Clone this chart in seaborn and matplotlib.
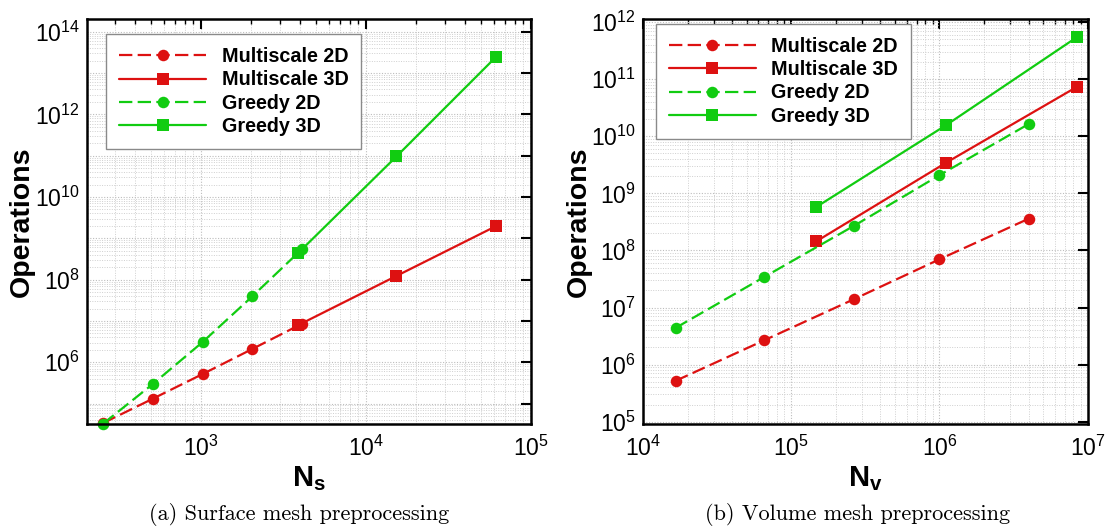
import numpy as np
import pandas as pd
import matplotlib
matplotlib.use("Agg")
import matplotlib.pyplot as plt
from matplotlib.ticker import LogLocator, FuncFormatter, NullFormatter
import seaborn as sns

# ---- data: surface mesh preprocessing ----
ns_2d = [256, 512, 1024, 2048, 4096]
ns_3d = [3880, 15300, 61000]
surf_multiscale_2d = [3.4e4, 1.32e5, 5.2e5, 2.1e6, 8.6e6]
surf_greedy_2d = [3.3e4, 3.0e5, 3.1e6, 3.95e7, 5.5e8]
surf_multiscale_3d = [7.9e6, 1.23e8, 1.95e9]
surf_greedy_3d = [4.4e8, 9.6e10, 2.4e13]

# ---- data: volume mesh preprocessing ----
nv_2d = [1.66e4, 6.6e4, 2.65e5, 1.0e6, 4.0e6]
nv_3d = [1.48e5, 1.11e6, 8.5e6]
vol_multiscale_2d = [5.2e5, 2.68e6, 1.40e7, 7.0e7, 3.6e8]
vol_greedy_2d = [4.4e6, 3.45e7, 2.7e8, 2.08e9, 1.64e10]
vol_multiscale_3d = [1.45e8, 3.45e9, 7.4e10]
vol_greedy_3d = [5.8e8, 1.57e10, 5.5e11]

series_names = ["Multiscale 2D", "Multiscale 3D", "Greedy 2D", "Greedy 3D"]
captions = ["(a) Surface mesh preprocessing", "(b) Volume mesh preprocessing"]

sns.set_style("white")
plt.rcParams["font.family"] = ["Liberation Sans", "DejaVu Sans"]
plt.rcParams["text.color"] = "black"
plt.rcParams["axes.labelcolor"] = "black"
plt.rcParams["mathtext.fontset"] = "custom"
plt.rcParams["mathtext.rm"] = "Liberation Sans"
plt.rcParams["mathtext.it"] = "Liberation Sans:italic"
plt.rcParams["mathtext.bf"] = "Liberation Sans:bold"

RED = "#dd1111"
GREEN = "#11cc11"
styles = {
    "Multiscale 2D": dict(color=RED, marker="o", dashes=(6, 2.4)),
    "Multiscale 3D": dict(color=RED, marker="s", dashes=None),
    "Greedy 2D": dict(color=GREEN, marker="o", dashes=(6, 2.4)),
    "Greedy 3D": dict(color=GREEN, marker="s", dashes=None),
}

W, H = 1106, 527
fig = plt.figure(figsize=(W / 100, H / 100), dpi=100)
ax1 = fig.add_axes([86.7 / W, (H - 423.5) / H, 444.3 / W, 404.2 / H])
ax2 = fig.add_axes([643.0 / W, (H - 423.5) / H, 444.7 / W, 404.2 / H])


def draw_series(ax, x, y, name):
    st = styles[name]
    df = pd.DataFrame({"x": x, "y": y})
    sns.lineplot(data=df, x="x", y="y", ax=ax, color=st["color"],
                 marker=st["marker"], markersize=8.3, markeredgewidth=0,
                 linewidth=1.6, label=name)
    ln = ax.lines[-1]
    ln.set_clip_on(False)
    if st["dashes"] is not None:
        ln.set_dashes(st["dashes"])


def sci_label(v, step=1):
    e = int(round(np.log10(v)))
    if e % step != 0:
        return ""
    return r"$\mathdefault{10^{%d}}$" % e


def style_axes(ax, xlim, ylim, xlabel, ystep, legend_anchor):
    ax.set_xscale("log")
    ax.set_yscale("log")
    ax.set_xlim(*xlim)
    ax.set_ylim(*ylim)
    ax.xaxis.set_major_locator(LogLocator(base=10, numticks=20))
    ax.xaxis.set_minor_locator(LogLocator(base=10, subs=np.arange(2, 10), numticks=20))
    ax.yaxis.set_major_locator(LogLocator(base=10, numticks=20))
    ax.yaxis.set_minor_locator(LogLocator(base=10, subs=np.arange(2, 10), numticks=20))
    ax.xaxis.set_major_formatter(FuncFormatter(lambda v, p: sci_label(v, 1)))
    ax.yaxis.set_major_formatter(FuncFormatter(lambda v, p: sci_label(v, ystep)))
    ax.xaxis.set_minor_formatter(NullFormatter())
    ax.yaxis.set_minor_formatter(NullFormatter())
    ax.grid(True, which="major", color="#bdbdbd", linestyle=(0, (1, 1.5)), linewidth=0.8)
    ax.grid(True, which="minor", color="#cfcfcf", linestyle=(0, (1, 1.5)), linewidth=0.7)
    ax.set_axisbelow(True)
    ax.tick_params(which="both", direction="in", top=True, right=True,
                   colors="black", labelcolor="black", labelsize=16.5)
    ax.tick_params(which="major", length=7, width=1.5)
    ax.tick_params(which="minor", length=3.5, width=1.0)
    ax.tick_params(axis="y", which="minor", length=0)
    ax.tick_params(axis="x", which="major", pad=9)
    ax.tick_params(axis="y", which="major", pad=5)
    for sp in ax.spines.values():
        sp.set_color("black")
        sp.set_linewidth(1.8)
    ax.set_xlabel(xlabel, fontsize=21, labelpad=2)
    ax.set_ylabel("Operations", fontsize=20.5, fontweight="bold", labelpad=-0.5)
    handles, labels = ax.get_legend_handles_labels()
    order = [labels.index(n) for n in series_names]
    leg = ax.legend([handles[i] for i in order], [labels[i] for i in order],
                    loc="upper left", bbox_to_anchor=legend_anchor,
                    borderaxespad=0, frameon=True, fancybox=False, shadow=False,
                    handlelength=4.4, handletextpad=0.8, labelspacing=0.22,
                    borderpad=0.65, prop=dict(weight="bold", size=14.2))
    frame = leg.get_frame()
    frame.set_edgecolor("#8a8a8a")
    frame.set_linewidth(1.0)
    frame.set_facecolor("white")
    frame.set_alpha(1.0)


draw_series(ax1, ns_2d, surf_multiscale_2d, "Multiscale 2D")
draw_series(ax1, ns_3d, surf_multiscale_3d, "Multiscale 3D")
draw_series(ax1, ns_2d, surf_greedy_2d, "Greedy 2D")
draw_series(ax1, ns_3d, surf_greedy_3d, "Greedy 3D")
style_axes(ax1, (203, 1e5), (3.3e4, 2e14), r"$\mathbf{N_s}$", 2,
           ((106.4 - 86.7) / 444.3, (423.5 - 34.3) / 404.2))

draw_series(ax2, nv_2d, vol_multiscale_2d, "Multiscale 2D")
draw_series(ax2, nv_3d, vol_multiscale_3d, "Multiscale 3D")
draw_series(ax2, nv_2d, vol_greedy_2d, "Greedy 2D")
draw_series(ax2, nv_3d, vol_greedy_3d, "Greedy 3D")
style_axes(ax2, (1e4, 1e7), (9.3e4, 1.12e12), r"$\mathbf{N_v}$", 1,
           ((656 - 643) / 444.7, (423.5 - 24) / 404.2))

fig.text(299 / W, 1 - 515 / H, captions[0], family="cmr10", fontsize=16,
         ha="center", va="center")
fig.text(858 / W, 1 - 515 / H, captions[1], family="cmr10", fontsize=16,
         ha="center", va="center")

fig.savefig("out.png", dpi=100)
